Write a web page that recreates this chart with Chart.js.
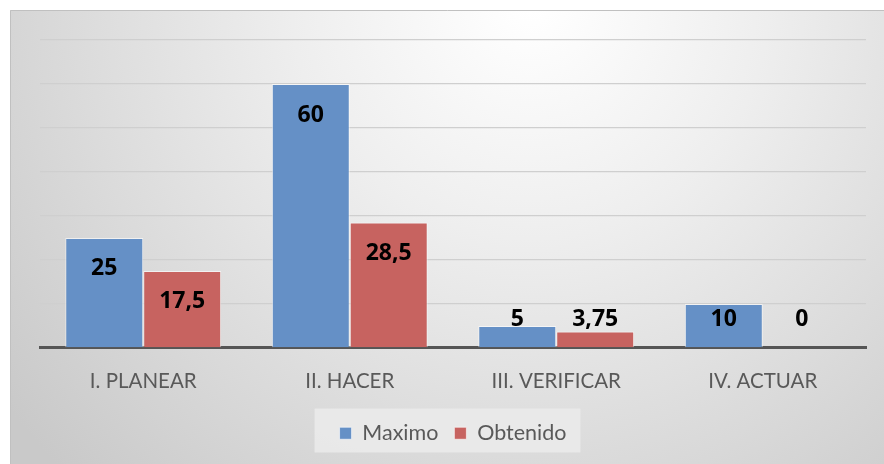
<!DOCTYPE html>
<html lang="es">
<head>
    <meta charset="UTF-8">
    <title>Maximo vs Obtenido</title>
    <script src="https://cdn.jsdelivr.net/npm/chart.js"></script>
    <style>
        html, body { margin: 0; padding: 0; background: #fff; }
        #wrap { width: 884px; height: 464px; position: relative; }
    </style>
</head>
<body>
    <div id="wrap"><canvas id="chart" width="884" height="464"></canvas></div>

    <script>
        const categories = ['I. PLANEAR', 'II. HACER', 'III. VERIFICAR', 'IV. ACTUAR'];
        const maximo = [25, 60, 5, 10];
        const obtenido = [17.5, 28.5, 3.75, 0];
        const seriesNames = ['Maximo', 'Obtenido'];

        const FONT = 'Lato, "Open Sans", sans-serif';

        // panel background with the soft grey gradient
        const panelBg = {
            id: 'panelBg',
            beforeDraw(chart) {
                const c = chart.ctx;
                const w = chart.width, h = chart.height;
                const g = c.createRadialGradient(w * 0.6, 0, 10, w * 0.6, 0, w * 0.75);
                g.addColorStop(0, '#ffffff');
                g.addColorStop(0.35, '#eeeeee');
                g.addColorStop(1, '#c9c9c9');
                c.save();
                c.fillStyle = g;
                c.fillRect(10, 10, w - 10, h - 10);
                c.strokeStyle = '#c0c0c0';
                c.lineWidth = 1;
                c.beginPath();
                c.moveTo(10.5, h);
                c.lineTo(10.5, 10.5);
                c.lineTo(w, 10.5);
                c.stroke();

                // legend box
                const boxes = chart.legend.legendHitBoxes;
                if (boxes && boxes.length) {
                    const l = boxes[0].left - 25;
                    const r = boxes[boxes.length - 1].left + boxes[boxes.length - 1].width + 14;
                    const t = boxes[0].top - 14;
                    c.fillStyle = 'rgba(235,235,235,0.85)';
                    c.fillRect(l, t, r - l, 44);
                }
                c.restore();
            }
        };

        // value labels near the top of each bar
        const valueLabels = {
            id: 'valueLabels',
            afterDatasetsDraw(chart) {
                const c = chart.ctx;
                const base = chart.scales.y.getPixelForValue(0);
                c.save();
                c.font = 'bold 23px "Open Sans", sans-serif';
                c.fillStyle = '#000';
                c.textAlign = 'center';
                c.textBaseline = 'middle';
                chart.data.datasets.forEach((ds, i) => {
                    chart.getDatasetMeta(i).data.forEach((bar, j) => {
                        const y = Math.min(bar.y + 31, base - 28);
                        c.fillText(String(ds.data[j]).replace('.', ','), bar.x, y);
                    });
                });
                c.restore();
            }
        };

        const ctx = document.getElementById('chart').getContext('2d');
        new Chart(ctx, {
            type: 'bar',
            data: {
                labels: categories,
                datasets: [{
                    label: seriesNames[0],
                    data: maximo,
                    backgroundColor: '#6590c6',
                    borderColor: 'rgba(255,255,255,0.6)',
                    borderWidth: 1
                }, {
                    label: seriesNames[1],
                    data: obtenido,
                    backgroundColor: '#c76360',
                    borderColor: 'rgba(255,255,255,0.6)',
                    borderWidth: 1
                }]
            },
            options: {
                responsive: false,
                animation: false,
                devicePixelRatio: 1,
                layout: { padding: { left: 40, right: 18, top: 40, bottom: 10 } },
                datasets: {
                    bar: { categoryPercentage: 0.755, barPercentage: 1 }
                },
                scales: {
                    x: {
                        grid: { display: false },
                        border: { color: '#555555', width: 3 },
                        ticks: { color: '#595959', font: { family: FONT, size: 20.5 }, padding: 13 }
                    },
                    y: {
                        min: 0,
                        max: 70,
                        ticks: { display: false, stepSize: 10 },
                        border: { display: false },
                        grid: { color: '#cfcfcf', lineWidth: 1.2, drawTicks: false }
                    }
                },
                plugins: {
                    legend: {
                        position: 'bottom',
                        labels: {
                            color: '#595959',
                            font: { family: FONT, size: 21.5 },
                            boxWidth: 12,
                            boxHeight: 12,
                            padding: 16
                        }
                    },
                    tooltip: { enabled: false }
                }
            },
            plugins: [panelBg, valueLabels]
        });
    </script>
</body>
</html>
